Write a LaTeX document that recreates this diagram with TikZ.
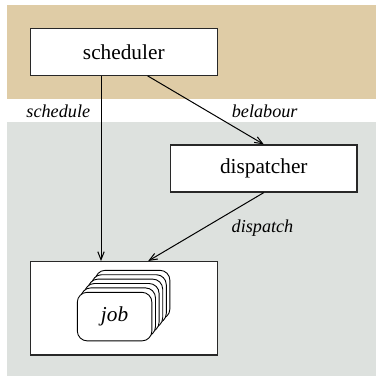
\documentclass[tikz,border=0pt]{standalone}
\usepackage{fontspec}
\setmainfont{Liberation Serif}
\usetikzlibrary{arrows.meta}
\definecolor{tanbg}{RGB}{223,204,166}
\definecolor{graybg}{RGB}{221,225,222}
\definecolor{edgec}{RGB}{40,40,40}
\tikzset{
  box/.style={draw=edgec,line width=0.6pt,fill=white,rectangle,inner sep=0pt,
    minimum width=93.5pt,minimum height=23.5pt,font=\rmfamily\fontsize{10.65}{12}\selectfont},
  card/.style={draw=black,line width=0.45pt,fill=white,rectangle,rounded corners=5pt,
    inner sep=0pt,minimum width=37.3pt,minimum height=24.3pt},
  lbl/.style={font=\rmfamily\fontsize{9.1}{11}\selectfont\itshape,inner sep=0pt,anchor=base},
  conn/.style={line width=0.5pt,-{Straight Barb[length=4pt,width=3.2pt]}}
}
\begin{document}
\begin{tikzpicture}[x=0.5pt,y=-0.5pt]
\useasboundingbox (0,0) rectangle (376,376);
\fill[tanbg] (7,5) rectangle (376,99);
\fill[graybg] (7,122) rectangle (376,376);
\node[box] (scheduler) at (123.8,51.8) {scheduler};
\node[box,minimum width=93.2pt] (dispatcher) at (263.8,168.5) {dispatcher};
\node[box,minimum height=46.7pt] (jobbox) at (123.8,308.3) {};
\foreach \i in {5,4,3,2,1} {
  \node[card] (card\i) at ({114.6+3.6*\i},{316.6-4.4*\i}) {};
}
\node[card,font=\rmfamily\fontsize{10.65}{12}\selectfont\itshape] (card0) at (114.6,316.6) {job};
\draw[conn] ([xshift=-11.4pt]scheduler.south) -- ([xshift=-11.4pt]jobbox.north);
\draw[conn] ([xshift=11.95pt]scheduler.south) -- (dispatcher.north);
\draw[conn] (dispatcher.south) -- ([xshift=12.2pt]jobbox.north);
\node[lbl] (lschedule) at (58.3,117) {schedule};
\node[lbl] (lbelabour) at (264.7,117) {belabour};
\node[lbl] (ldispatch) at (262.5,232.5) {dispatch};
\end{tikzpicture}
\end{document}
